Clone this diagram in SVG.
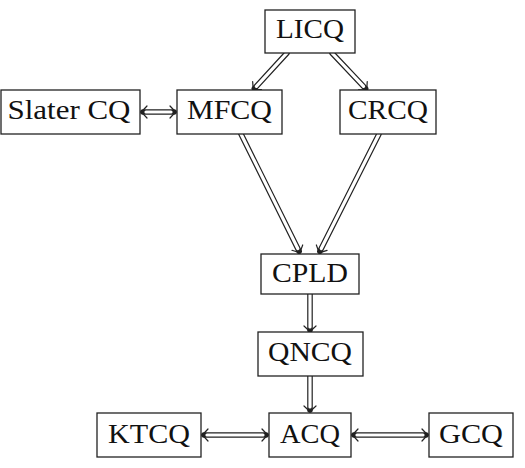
<svg xmlns="http://www.w3.org/2000/svg" width="525" height="468" viewBox="0 0 525 468">
<defs>
<style>
.box{fill:#fff;stroke:#222;stroke-width:1.3}
.lbl{font-family:"Liberation Serif","DejaVu Serif",serif;font-size:27px;fill:#111;text-anchor:middle}
.ob{stroke:#222;stroke-width:5.6;stroke-linecap:round;fill:none}
.iw{stroke:#fff;stroke-width:3.2;stroke-linecap:round;fill:none}
.hd{stroke:#222;stroke-width:1.2;fill:none;stroke-linecap:round}
</style>
<path id="head" class="hd" d="M -6,-6 Q -2.2,-1.8 0,0 Q -2.2,1.8 -6,6"/>
</defs>
<rect width="525" height="468" fill="#fff"/>
<g id="connectors">
<g id="e1"><line class="ob" x1="287" y1="53" x2="254.35" y2="88.53"/><line class="iw" x1="287" y1="53" x2="256.39" y2="86.32"/><use href="#head" transform="translate(253,90) rotate(132.6)"/></g>
<g id="e2"><line class="ob" x1="332" y1="53" x2="365.62" y2="88.55"/><line class="iw" x1="332" y1="53" x2="363.56" y2="86.37"/><use href="#head" transform="translate(367,90) rotate(46.6)"/></g>
<g id="e3"><line class="ob" x1="241" y1="134" x2="299.11" y2="251.21"/><line class="iw" x1="241" y1="134" x2="297.78" y2="248.52"/><use href="#head" transform="translate(300,253) rotate(63.6)"/></g>
<g id="e4"><line class="ob" x1="379" y1="134" x2="319.9" y2="251.21"/><line class="iw" x1="379" y1="134" x2="321.25" y2="248.54"/><use href="#head" transform="translate(319,253) rotate(116.8)"/></g>
<g id="e5"><line class="ob" x1="310" y1="294" x2="310" y2="330"/><line class="iw" x1="310" y1="294" x2="310" y2="327"/><use href="#head" transform="translate(310,332) rotate(90)"/></g>
<g id="e6"><line class="ob" x1="310" y1="376" x2="310" y2="410"/><line class="iw" x1="310" y1="376" x2="310" y2="407"/><use href="#head" transform="translate(310,412) rotate(90)"/></g>
<g id="e7"><line class="ob" x1="204" y1="435" x2="266" y2="435" stroke-linecap="butt"/><line class="iw" x1="207" y1="435" x2="263" y2="435"/><use href="#head" transform="translate(202,435) rotate(180)"/><use href="#head" transform="translate(268,435)"/></g>
<g id="e8"><line class="ob" x1="354" y1="435" x2="426" y2="435" stroke-linecap="butt"/><line class="iw" x1="357" y1="435" x2="423" y2="435"/><use href="#head" transform="translate(352,435) rotate(180)"/><use href="#head" transform="translate(428,435)"/></g>
<g id="e9"><line class="ob" x1="143" y1="112" x2="174" y2="112" stroke-linecap="butt"/><line class="iw" x1="146" y1="112" x2="171" y2="112"/><use href="#head" transform="translate(141,112) rotate(180)"/><use href="#head" transform="translate(176,112)"/></g>
</g>
<g id="LICQ"><rect class="box" x="265" y="10" width="90" height="43"/><text class="lbl" x="310" y="38" textLength="68" lengthAdjust="spacingAndGlyphs">LICQ</text></g>
<g id="SlaterCQ"><rect class="box" x="1" y="90" width="139" height="44"/><text class="lbl" x="69" y="119" textLength="123" lengthAdjust="spacingAndGlyphs">Slater CQ</text></g>
<g id="MFCQ"><rect class="box" x="177" y="90" width="105" height="44"/><text class="lbl" x="229.5" y="119" textLength="85" lengthAdjust="spacingAndGlyphs">MFCQ</text></g>
<g id="CRCQ"><rect class="box" x="340" y="90" width="96" height="44"/><text class="lbl" x="388" y="119" textLength="80" lengthAdjust="spacingAndGlyphs">CRCQ</text></g>
<g id="CPLD"><rect class="box" x="261" y="254" width="98" height="40"/><text class="lbl" x="310" y="282" textLength="76" lengthAdjust="spacingAndGlyphs">CPLD</text></g>
<g id="QNCQ"><rect class="box" x="258" y="332" width="105" height="44"/><text class="lbl" x="310" y="361" textLength="84" lengthAdjust="spacingAndGlyphs">QNCQ</text></g>
<g id="KTCQ"><rect class="box" x="97" y="413" width="104" height="44"/><text class="lbl" x="149" y="443" textLength="82" lengthAdjust="spacingAndGlyphs">KTCQ</text></g>
<g id="ACQ"><rect class="box" x="269" y="413" width="82" height="44"/><text class="lbl" x="310" y="443" textLength="60" lengthAdjust="spacingAndGlyphs">ACQ</text></g>
<g id="GCQ"><rect class="box" x="429" y="413" width="84" height="44"/><text class="lbl" x="471" y="443" textLength="64" lengthAdjust="spacingAndGlyphs">GCQ</text></g>
</svg>
